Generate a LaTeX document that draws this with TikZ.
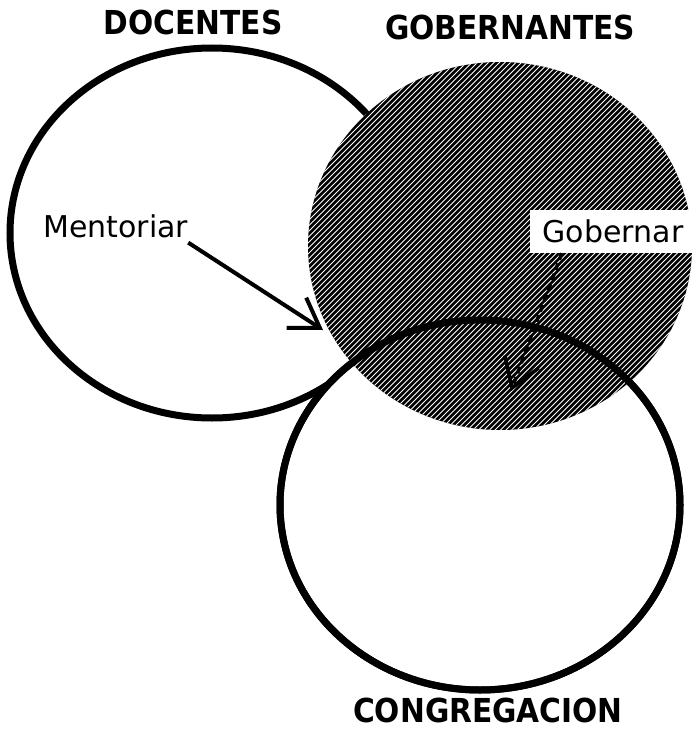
\documentclass[tikz,border=0pt]{standalone}
\usepackage{fontspec}
\setmainfont{DejaVu Sans}
\newfontfamily\headfont{DejaVu Sans Condensed}
\usetikzlibrary{arrows.meta}

\begin{document}
\begin{tikzpicture}[x=1pt, y=-1pt,
    ring/.style={draw=black, line width=7pt},
    headtxt/.style={font=\headfont\bfseries\fontsize{33}{33}\selectfont, anchor=base, inner sep=0pt},
    wordtxt/.style={font=\fontsize{30}{30}\selectfont, inner sep=0pt},
    barb/.style={-{Straight Barb[length=28pt, width=36pt]}, line width=4pt}]
    \useasboundingbox (0,0) rectangle (696,733);
    
    % Docentes and congregacion
    \draw[ring] (212,233) ellipse [x radius=202, y radius=185];
    \draw[ring, fill=white] (480,505) ellipse [x radius=200, y radius=185];
    
    % Mentoriar arrow
    \node[wordtxt, anchor=base west] (ment) at (43,237) {Mentoriar};
    \coordinate (mtip) at (323,330);
    \draw[barb] ([yshift=-5pt]ment.south east) -- (mtip);
    
    % Gobernantes, hatched
    \begin{scope}
        \clip (500,246) ellipse [x radius=192, y radius=184];
        \fill[black] (300,60) rectangle (700,440);
        \foreach \k in {-120,-114.5,...,700}
            \draw[white, line width=1pt] (\k,440) -- ++(400,-400);
    \end{scope}
    \draw[ring] (480,505) ellipse [x radius=200, y radius=185];
    
    % Gobernar arrow
    \node[wordtxt, fill=white, minimum width=166pt, minimum height=43pt] (gob) at (613,231.5) {Gobernar};
    \coordinate (gtip) at (511,391);
    \draw[barb, line width=3.5pt, dash pattern=on 7pt off 4pt] ([xshift=32pt]gob.south west) -- (gtip);
    
    % Titles
    \node[headtxt] (doc) at (193,35) {DOCENTES};
    \node[headtxt] (gobt) at (510,40) {GOBERNANTES};
    \node[headtxt] (cong) at (488,722) {CONGREGACION};
\end{tikzpicture}
\end{document}
